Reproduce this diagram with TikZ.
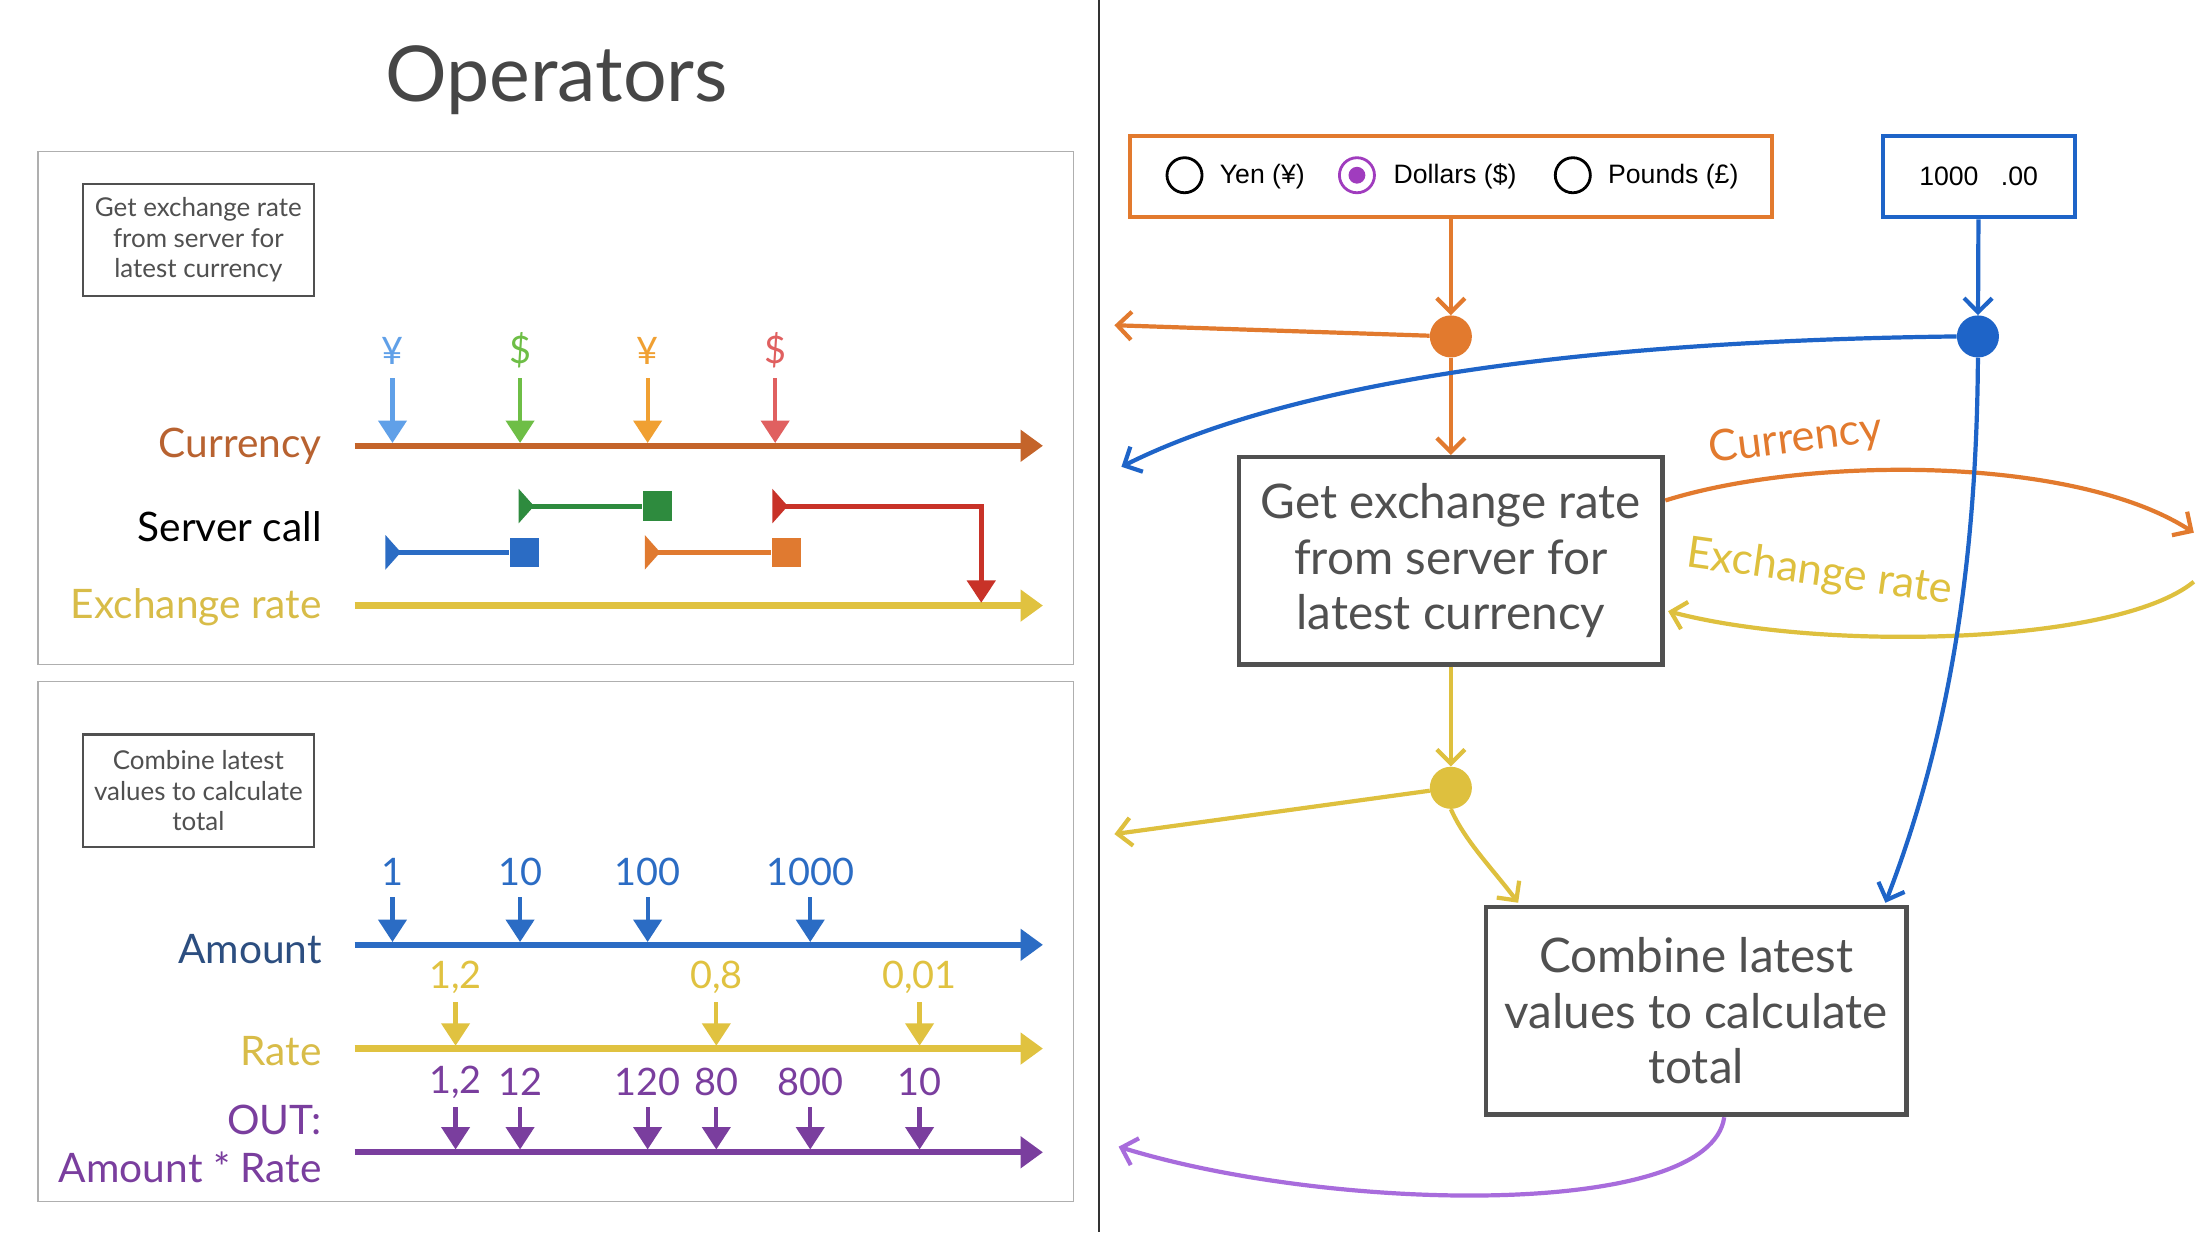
\documentclass[tikz,border=0pt]{standalone}
\usepackage{fontspec}
\setmainfont{Lato}
\newfontfamily\uifont{Liberation Sans}
\usetikzlibrary{arrows.meta}
\definecolor{TitleGray}{RGB}{70,70,70}
\definecolor{BoxGray}{RGB}{80,80,80}
\definecolor{PanelGray}{RGB}{175,175,175}
\definecolor{CurrencyLine}{RGB}{196,100,42}
\definecolor{CurrencyText}{RGB}{184,98,48}
\definecolor{RateYellow}{RGB}{224,194,64}
\definecolor{RateText}{RGB}{216,188,72}
\definecolor{AmountBlue}{RGB}{43,108,196}
\definecolor{AmountText}{RGB}{44,78,128}
\definecolor{OutPurple}{RGB}{122,62,158}
\definecolor{YenBlue}{RGB}{96,160,232}
\definecolor{DollarGreen}{RGB}{110,190,70}
\definecolor{YenOrange}{RGB}{240,160,50}
\definecolor{DollarRed}{RGB}{224,96,96}
\definecolor{CallGreen}{RGB}{46,139,62}
\definecolor{CallRed}{RGB}{200,50,40}
\definecolor{CallBlue}{RGB}{43,108,196}
\definecolor{CallOrange}{RGB}{224,122,48}
\definecolor{FlowOrange}{RGB}{226,122,46}
\definecolor{FlowBlue}{RGB}{30,100,200}
\definecolor{FlowYellow}{RGB}{222,192,62}
\definecolor{FlowLilac}{RGB}{168,108,220}
\definecolor{RadioPurple}{RGB}{160,60,190}

\begin{document}
\begin{tikzpicture}[x=1pt, y=-1pt,
    panel/.style={draw=PanelGray, line width=1pt},
    opbox/.style={draw=BoxGray, line width=1.6pt, align=center, text=BoxGray, inner sep=1pt,
                  font=\fontsize{18.5}{21.5}\selectfont},
    bigbox/.style={draw=BoxGray, line width=3pt, align=center, text=BoxGray, inner sep=3pt,
                   font=\fontsize{34}{39.5}\selectfont},
    tlabel/.style={anchor=east, font=\fontsize{29}{34}\selectfont},
    tiplbl/.style={font=\fontsize{27}{30}\selectfont, inner sep=0pt},
    timeline/.style={line width=4.5pt, -{Triangle[length=16pt,width=22pt]}},
    drop/.style={line width=3pt, -{Triangle[length=16pt,width=20pt]}},
    srvcall/.style={line width=3.5pt, {Triangle[reversed,length=11pt,width=24pt]}-},
    endsq/.style={minimum size=21pt, inner sep=0pt},
    flow/.style={line width=3pt, -{Straight Barb[length=10pt,width=20pt]}},
    joint/.style={circle, minimum size=30pt, inner sep=0pt},
    radio/.style={circle, draw, line width=2pt, minimum size=25pt, inner sep=0pt},
    ui/.style={font=\uifont\fontsize{19}{23}\selectfont, anchor=west, inner sep=0pt},
]
    \useasboundingbox (0,0) rectangle (1568,879);
    \fill[white] (0,0) rectangle (1568,879);
    \draw[line width=2pt, black!80] (784,0) -- (784,879);

    % left half: marble diagrams
    \node[text=TitleGray, font=\fontsize{55}{60}\selectfont] (title) at (397,57) {Operators};

    \node[panel, minimum width=739, minimum height=366] (toppanel) at (396.5,291) {};
    \node[opbox, minimum width=165, minimum height=80] (getsmall) at (141.5,171)
        {Get exchange rate\\from server for\\latest currency};
    \node[tlabel, text=CurrencyText] (curlab) at (233,318) {Currency};
    \node[tlabel, text=black] (srvlab) at (233,376) {Server call};
    \node[tlabel, text=RateText] (xrlab) at (233,433) {Exchange rate};
    \coordinate (curA) at (253,318);
    \coordinate (curB) at (744,318);
    \coordinate (xrA) at (253,432);
    \coordinate (xrB) at (744,432);
    \draw[timeline, CurrencyLine] (curA) -- (curB);
    \draw[timeline, RateYellow] (xrA) -- (xrB);
    \foreach \x/\s/\c in {280/¥/YenBlue, 371/\$/DollarGreen, 462/¥/YenOrange, 553/\$/DollarRed}{
        \node[tiplbl, text=\c] (cur\x) at (\x,250) {\s};
        \draw[drop, \c] (cur\x) ++(0,20) -- (\x,316);
    }
    % server calls
    \node[endsq, fill=CallGreen] (gsq) at (469,361) {};
    \coordinate (gst) at (370,361);
    \draw[srvcall, CallGreen] (gst) -- (gsq);
    \node[endsq, fill=CallBlue] (bsq) at (374,394) {};
    \coordinate (bst) at (275,394);
    \draw[srvcall, CallBlue] (bst) -- (bsq);
    \node[endsq, fill=CallOrange] (osq) at (561,394) {};
    \coordinate (ost) at (460,394);
    \draw[srvcall, CallOrange] (ost) -- (osq);
    \coordinate (rst) at (551,361);
    \coordinate (rxr) at (700,430);
    \draw[line width=3.5pt, CallRed,
          {Triangle[reversed,length=11pt,width=24pt]}-{Triangle[length=16pt,width=20pt]}]
        (rst) -- (700,361) -- (rxr);

    \node[panel, minimum width=739, minimum height=371] (botpanel) at (396.5,671.5) {};
    \node[opbox, minimum width=165, minimum height=80] (combsmall) at (141.5,564)
        {Combine latest\\values to calculate\\total};
    \node[tlabel, text=AmountText] (amtlab) at (233,677) {Amount};
    \node[tlabel, text=RateText] (ratelab) at (233,750) {Rate};
    \node[tlabel, text=OutPurple, align=right] (outlab) at (233,816) {OUT:\\Amount * Rate};
    \coordinate (amtA) at (253,674);
    \coordinate (amtB) at (744,674);
    \coordinate (rateA) at (253,748);
    \coordinate (rateB) at (744,748);
    \coordinate (outA) at (253,822);
    \coordinate (outB) at (744,822);
    \draw[timeline, AmountBlue] (amtA) -- (amtB);
    \draw[timeline, RateYellow] (rateA) -- (rateB);
    \draw[timeline, OutPurple] (outA) -- (outB);
    \foreach \x/\v in {280/1, 371/10, 462/100, 578/1000}{
        \node[tiplbl, text=AmountBlue] (amt\x) at (\x,622) {\v};
        \draw[drop, AmountBlue] (amt\x) ++(0,18) -- (\x,672);
    }
    \foreach \x/\v in {325/{1,2}, 511/{0,8}, 656/{0,01}}{
        \node[tiplbl, text=RateYellow] (rt\x) at (\x,697) {\v};
        \draw[drop, RateYellow] (rt\x) ++(0,18) -- (\x,746);
    }
    \foreach \x/\v in {325/{1,2}, 371/12, 462/120, 511/80, 578/800, 656/10}{
        \node[tiplbl, text=OutPurple] (res\x) at (\x,772) {\v};
        \draw[drop, OutPurple] (res\x) ++(0,18) -- (\x,820);
    }

    % right half: the app wiring
    \node[draw=FlowOrange, line width=3pt, minimum width=458, minimum height=58] (cursel) at (1035,126) {};
    \node[radio] (yenrb) at (845,125) {};
    \node[ui] (yentx) at (870,126) {Yen (¥)};
    \node[radio, draw=RadioPurple] (dolrb) at (968,125) {};
    \node[circle, fill=RadioPurple, minimum size=12pt, inner sep=0pt] (dolsel) at (dolrb) {};
    \node[ui] (doltx) at (994,126) {Dollars (\$)};
    \node[radio] (gbprb) at (1122,125) {};
    \node[ui] (gbptx) at (1147,126) {Pounds (£)};
    \node[draw=FlowBlue, line width=3pt, minimum width=137, minimum height=58,
          font=\uifont\fontsize{19}{23}\selectfont] (amtin) at (1411.5,126) {1000\hspace{16pt}.00};

    \node[joint, fill=FlowOrange] (odot) at (1035,240) {};
    \node[joint, fill=FlowBlue] (bdot) at (1411,240) {};
    \node[bigbox, minimum width=302, minimum height=148] (getrate) at (1035,400)
        {Get exchange rate\\from server for\\latest currency};
    \node[joint, fill=FlowYellow] (ydot) at (1035,562) {};
    \node[bigbox, minimum width=300, minimum height=148] (combine) at (1210,721)
        {Combine latest\\values to calculate\\total};

    \coordinate (oleft) at (795,232);
    \coordinate (bleft) at (800,333);
    \coordinate (bin) at (1345,644);
    \coordinate (curout) at (1188,357);
    \coordinate (curedge) at (1565,380);
    \coordinate (xredge) at (1565,415);
    \coordinate (xrin) at (1190,436);
    \coordinate (yleft) at (795,595);
    \coordinate (yin) at (1083,644);
    \coordinate (pout) at (1230,797);
    \coordinate (pleft) at (798,818);

    \draw[flow, FlowOrange] (cursel) -- (odot);
    \draw[flow, FlowOrange] (odot) -- (oleft);
    \draw[flow, FlowOrange] (odot) -- (getrate);
    \draw[flow, FlowBlue] (amtin) -- (bdot);
    \draw[flow, FlowBlue] (bdot.west) .. controls (1150,243) and (930,268) .. (bleft);
    \draw[flow, FlowOrange] (curout) .. controls (1290,325) and (1480,325) .. (curedge);
    \draw[flow, FlowYellow] (xredge) .. controls (1510,460) and (1300,465) .. (xrin);
    \draw[flow, FlowBlue] (bdot.south) .. controls (1410,420) and (1385,540) .. (bin);
    \node[text=FlowOrange, rotate=7, font=\fontsize{31}{34}\selectfont] (curtag) at (1281,314) {Currency};
    \node[text=FlowYellow, rotate=-8, font=\fontsize{31}{34}\selectfont] (xrtag) at (1298,409) {Exchange rate};
    \draw[flow, FlowYellow] (getrate) -- (ydot);
    \draw[flow, FlowYellow] (ydot) -- (yleft);
    \draw[flow, FlowYellow] (ydot.south) .. controls (1045,600) and (1065,620) .. (yin);
    \draw[flow, FlowLilac] (pout) .. controls (1220,870) and (950,865) .. (pleft);
\end{tikzpicture}
\end{document}
